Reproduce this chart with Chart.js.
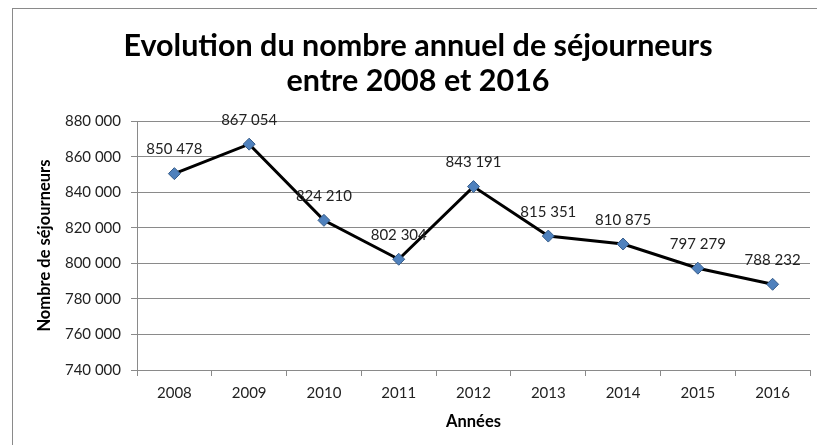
<!DOCTYPE html>
<html>
<head>
<meta charset="utf-8">
<script src="https://cdn.jsdelivr.net/npm/chart.js@4"></script>
<style>
  html, body { margin: 0; padding: 0; background: #fff; }
  #wrap { position: relative; width: 817px; height: 445px; }
  #frame { position: absolute; left: 12px; top: 8px; width: 900px; height: 500px; border-left: 1px solid #8a8a8a; border-top: 1px solid #8a8a8a; pointer-events: none; }
  canvas { position: absolute; left: 0; top: 0; }
</style>
</head>
<body>
<div id="wrap">
  <div id="frame"></div>
  <canvas id="c" width="817" height="445"></canvas>
</div>
<script>
const years = ['2008', '2009', '2010', '2011', '2012', '2013', '2014', '2015', '2016'];
const sejourneurs = [850478, 867054, 824210, 802304, 843191, 815351, 810875, 797279, 788232];
const titleLines = ['Evolution du nombre annuel de séjourneurs', 'entre 2008 et 2016'];
const yAxisTitle = 'Nombre de séjourneurs';
const xAxisTitle = 'Années';
const yMin = 740000, yMax = 880000, yStep = 20000;

const fmt = v => String(Math.round(v)).replace(/\B(?=(\d{3})+(?!\d))/g, ' ');
const FONT = 'Lato, "Open Sans", sans-serif';

const labelPlugin = {
  id: 'valueLabels',
  afterDatasetsDraw(chart) {
    const ctx = chart.ctx;
    const meta = chart.getDatasetMeta(0);
    ctx.save();
    ctx.font = '15px ' + FONT;
    ctx.fillStyle = '#222';
    ctx.textAlign = 'center';
    ctx.textBaseline = 'middle';
    meta.data.forEach((pt, i) => {
      ctx.fillText(fmt(chart.data.datasets[0].data[i]), pt.x, pt.y - 24);
    });
    ctx.restore();
  }
};

new Chart(document.getElementById('c'), {
  type: 'line',
  data: {
    labels: years,
    datasets: [{
      data: sejourneurs,
      borderColor: '#000',
      borderWidth: 3,
      pointStyle: 'rectRot',
      pointRadius: 6,
      pointHoverRadius: 6,
      pointBackgroundColor: '#4F81BD',
      pointBorderColor: '#385D8A',
      pointBorderWidth: 1,
      tension: 0,
      clip: false
    }]
  },
  options: {
    responsive: false,
    animation: false,
    events: [],
    layout: { padding: { left: 24, right: 5, top: 0, bottom: 0 } },
    plugins: {
      legend: { display: false },
      tooltip: { enabled: false },
      title: {
        display: true,
        text: titleLines,
        color: '#000',
        font: { family: FONT, size: 30.5, weight: 'bold', lineHeight: 1.15 },
        padding: { top: 29, bottom: 22 }
      }
    },
    scales: {
      x: {
        offset: true,
        grid: { display: true, drawOnChartArea: false, offset: true, tickLength: 6, color: '#8a8a8a' },
        border: { color: '#8a8a8a' },
        ticks: { color: '#222', font: { family: FONT, size: 15 }, padding: 8 },
        title: { display: true, text: xAxisTitle, color: '#000', font: { family: FONT, size: 16.5, weight: 'bold' }, padding: { top: 0, bottom: 13 } },
        afterFit(s) { s.height = 75; }
      },
      y: {
        min: yMin, max: yMax,
        grid: { color: '#8a8a8a', tickLength: 6 },
        border: { color: '#8a8a8a' },
        ticks: { stepSize: yStep, color: '#222', font: { family: FONT, size: 15 }, padding: 10, callback: v => fmt(v) },
        title: { display: true, text: yAxisTitle, color: '#000', font: { family: FONT, size: 16.5, weight: 'bold' }, padding: { top: 11, bottom: 0 } },
        afterFit(s) { s.width = 113; }
      }
    }
  },
  plugins: [labelPlugin]
});
</script>
</body>
</html>
